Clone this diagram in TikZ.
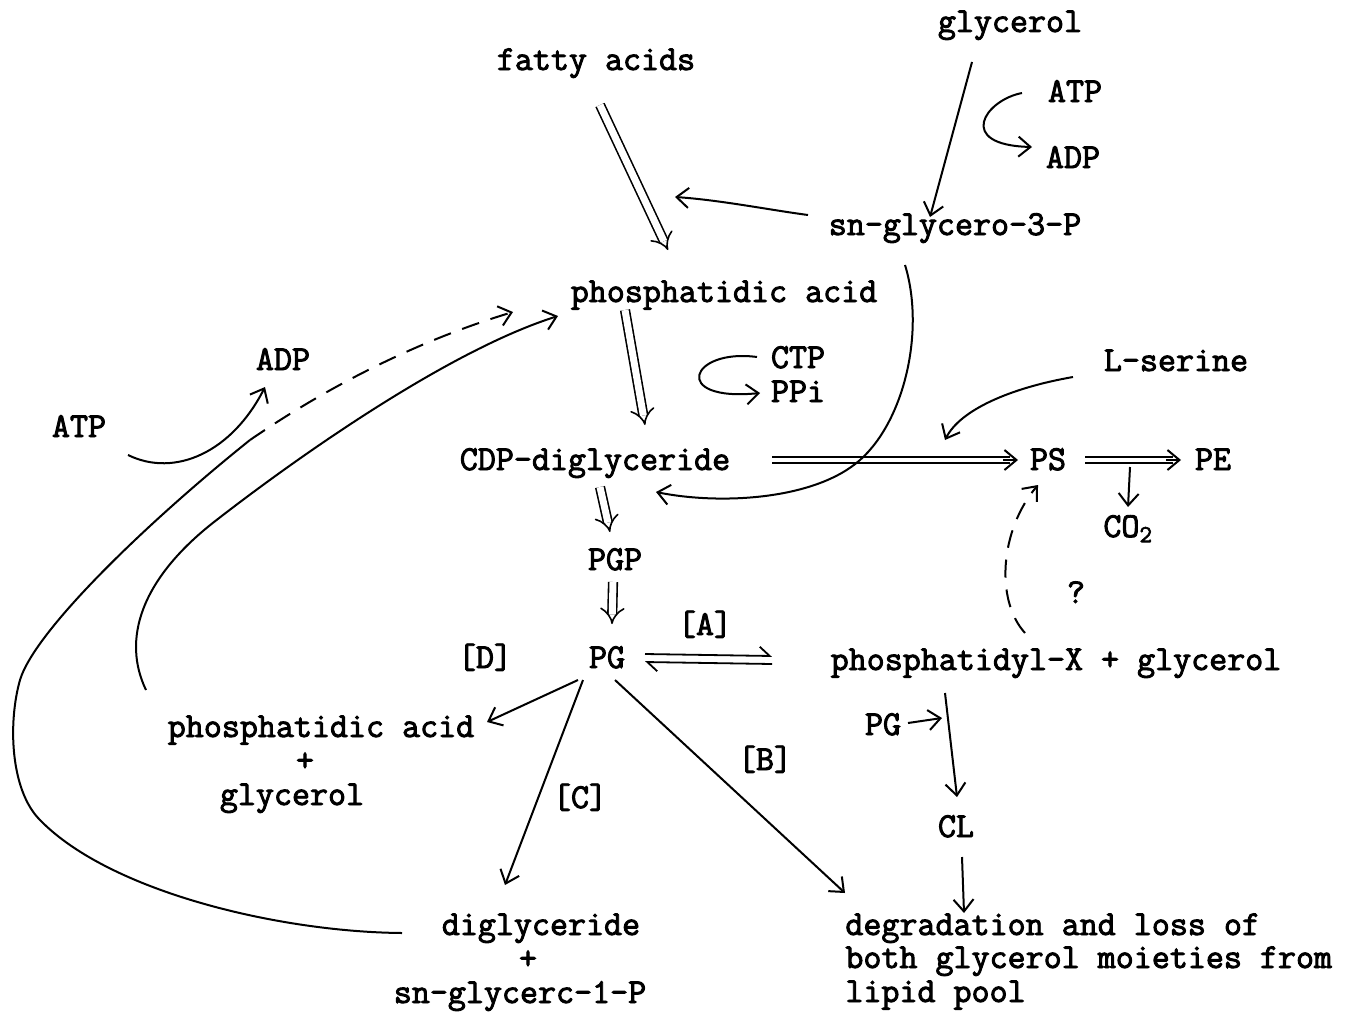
\documentclass[tikz,border=0pt]{standalone}
\usepackage{fontspec}
\setmonofont{Latin Modern Mono}[FakeBold=2.6]
\usetikzlibrary{arrows.meta,calc}
\begin{document}
\begin{tikzpicture}[x=0.5pt,y=-0.5pt,
  font=\ttfamily\fontsize{17.5}{20}\selectfont,
  lbl/.style={anchor=base, inner sep=0pt},
  con/.style={line width=1pt, -{Straight Barb[length=6pt,width=10pt]}},
  plain/.style={line width=1pt},
  dblar/.style={double, double distance=3.5pt, line width=0.8pt, -{Implies}},
  typed/.style={line width=0.9pt},
  harpR/.style={line width=0.9pt, -{Straight Barb[left,length=5pt,width=9pt]}},
  dashcon/.style={line width=1pt, dash pattern=on 9pt off 6pt, -{Straight Barb[length=6pt,width=10pt]}}]
\useasboundingbox (0,0) rectangle (1364,1012);

% ---- nodes
\node[lbl] (fa) at (596,70) {fatty acids};
\node[lbl] (gly) at (1010,32) {glycerol};
\node[lbl] (atpa) at (1075,102) {ATP};
\node[lbl] (adpa) at (1073,168) {ADP};
\node[lbl] (g3p) at (955,235) {sn-glycero-3-P};
\node[lbl] (pa) at (724,302) {phosphatidic acid};
\node[lbl] (ctp) at (798,368) {CTP};
\node[lbl] (ppi) at (798,402) {PPi};
\node[lbl] (adpb) at (283,370) {ADP};
\node[lbl] (atpb) at (79,437) {ATP};
\node[lbl] (ser) at (1176,371) {L-serine};
\node[lbl] (cdp) at (595,470) {CDP-diglyceride};
\node[lbl] (ps) at (1048,470) {PS};
\node[lbl] (pe) at (1213,470) {PE};
\node[lbl, anchor=base west] (co2) at (1103,537) {CO\textsubscript{2}};
\node[lbl] (pgp) at (615,570) {PGP};
\node[lbl] (q) at (1076,603) {?};
\node[lbl] (ea) at (705,635) {[A]};
\node[lbl] (ed) at (485,668) {[D]};
\node[lbl] (pg) at (607,668) {PG};
\node[lbl] (px) at (1056,670) {phosphatidyl-X + glycerol};
\node[lbl] (pgb) at (883,735) {PG};
\node[lbl] (pa2) at (321,737) {phosphatidic acid};
\node[lbl] (plus1) at (305,771) {+};
\node[lbl] (gly2) at (292,805) {glycerol};
\node[lbl] (eb) at (765,770) {[B]};
\node[lbl] (ec) at (580,808) {[C]};
\node[lbl] (cl) at (956,837) {CL};
\node[lbl] (dg) at (541,935) {diglyceride};
\node[lbl] (plus2) at (528,969) {+};
\node[lbl] (sn1) at (520,1003) {sn-glycerc-1-P};
\node[lbl, anchor=base west] (deg1) at (845,935) {degradation and loss of};
\node[lbl, anchor=base west] (deg2) at (845,968) {both glycerol moieties from};
\node[lbl, anchor=base west] (deg3) at (845,1002) {lipid pool};

% ---- connectors
% fatty acids => phosphatidic acid
\draw[dblar] ([shift={(4,35)}]fa.base) -- ([shift={(-56,-52)}]pa.base);
% glycerol -> sn-glycero-3-P
\draw[con] ([shift={(-38,30)}]gly.base) -- ([shift={(-25,-18)}]g3p.base);
% ATP -> ADP (top)
\draw[con] ([shift={(-53,-9)}]atpa.base) .. controls (985,100) and (955,145) .. ([shift={(-41,-21)}]adpa.base);
% sn-glycero-3-P -> acylation
\draw[con] ([shift={(-147,-20)}]g3p.base) .. controls (770,210) and (720,200) .. ([shift={(-49,-105)}]pa.base);
% sn-glycero-3-P -> CDP-diglyceride (big curve)
\draw[con] ([shift={(-50,30)}]g3p.base) .. controls (925,330) and (905,420) .. (860,460)
   .. controls (815,500) and (720,505) .. ([shift={(61,22)}]cdp.base);
% phosphatidic acid => CDP-diglyceride
\draw[dblar] ([shift={(-99,8)}]pa.base) -- ([shift={(50,-45)}]cdp.base);
% CTP -> PPi
\draw[con] ([shift={(-41,-11)}]ctp.base) .. controls (690,348) and (670,402) .. ([shift={(-38,-9)}]ppi.base);
% ATP -> ADP (left)
\draw[con] ([shift={(49,18)}]atpb.base) .. controls (175,478) and (232,452) .. ([shift={(-18,17)}]adpb.base);
% phosphatidic acid + glycerol -> phosphatidic acid
\draw[con] ([shift={(-175,-47)}]pa2.base) .. controls (122,640) and (140,580) .. (214,522)
   .. controls (300,455) and (450,350) .. ([shift={(-166,14)}]pa.base);
% diglyceride -> phosphatidic acid (solid then dashed)
\draw[plain] ([shift={(-139,-2)}]dg.base) .. controls (280,932) and (110,892) .. (40,820)
   .. controls (10,790) and (8,722) .. (20,680)
   .. controls (35,630) and (150,520) .. (250,440) coordinate (dgmid);
\draw[dashcon] (dgmid) .. controls (330,385) and (420,340) .. ([shift={(-211,10)}]pa.base);
% CDP-diglyceride => PGP
\draw[dblar] ([shift={(5,17)}]cdp.base) -- ([shift={(-5,-38)}]pgp.base);
% PGP => PG
\draw[dblar] ([shift={(-2,12)}]pgp.base) -- ([shift={(5,-44)}]pg.base);
% PG <=> phosphatidyl-X
\draw[harpR] ([shift={(38,-14)}]pg.base) -- ([shift={(-284,-14)}]px.base);
\draw[harpR] ([shift={(-284,-6)}]px.base) -- ([shift={(38,-6)}]pg.base);
% CDP-diglyceride ==> PS
\draw[typed] ([shift={(177,-13)}]cdp.base) -- ([shift={(-38,-13)}]ps.base);
\draw[typed] ([shift={(177,-7)}]cdp.base) -- ([shift={(-38,-7)}]ps.base);
\draw[con] ([shift={(-45,-10)}]ps.base) -- ([shift={(-30,-10)}]ps.base);
% PS ==> PE
\draw[typed] ([shift={(37,-13)}]ps.base) -- ([shift={(-40,-13)}]pe.base);
\draw[typed] ([shift={(37,-7)}]ps.base) -- ([shift={(-40,-7)}]pe.base);
\draw[con] ([shift={(-47,-10)}]pe.base) -- ([shift={(-32,-10)}]pe.base);
% PS -> CO2
\draw[con] ([shift={(82,-3)}]ps.base) -- ([shift={(25,-30)}]co2.base west);
% L-serine -> PS
\draw[con] ([shift={(-103,6)}]ser.base) .. controls (1010,388) and (960,410) .. ([shift={(-103,-30)}]ps.base);
% phosphatidyl-X -> PS (dashed)
\draw[dashcon] ([shift={(-31,-37)}]px.base) .. controls (995,600) and (1000,530) .. ([shift={(-10,15)}]ps.base);
% phosphatidyl-X -> CL
\draw[con] ([shift={(-111,23)}]px.base) -- ([shift={(1,-40)}]cl.base);
% PG -> (into CL step)
\draw[con] ([shift={(25,-12)}]pgb.base) -- ([shift={(-14,-119)}]cl.base);
% CL -> degradation
\draw[con] ([shift={(6,20)}]cl.base) -- ([shift={(119,-22)}]deg1.base west);
% PG -> phosphatidic acid + glycerol
\draw[con] ([shift={(-29,12)}]pg.base) -- ([shift={(166,-15)}]pa2.base);
% PG -> diglyceride
\draw[con] ([shift={(-24,12)}]pg.base) -- ([shift={(-36,-50)}]dg.base);
% PG -> degradation
\draw[con] ([shift={(8,12)}]pg.base) -- ([shift={(0,-42)}]deg1.base west);
\end{tikzpicture}
\end{document}
